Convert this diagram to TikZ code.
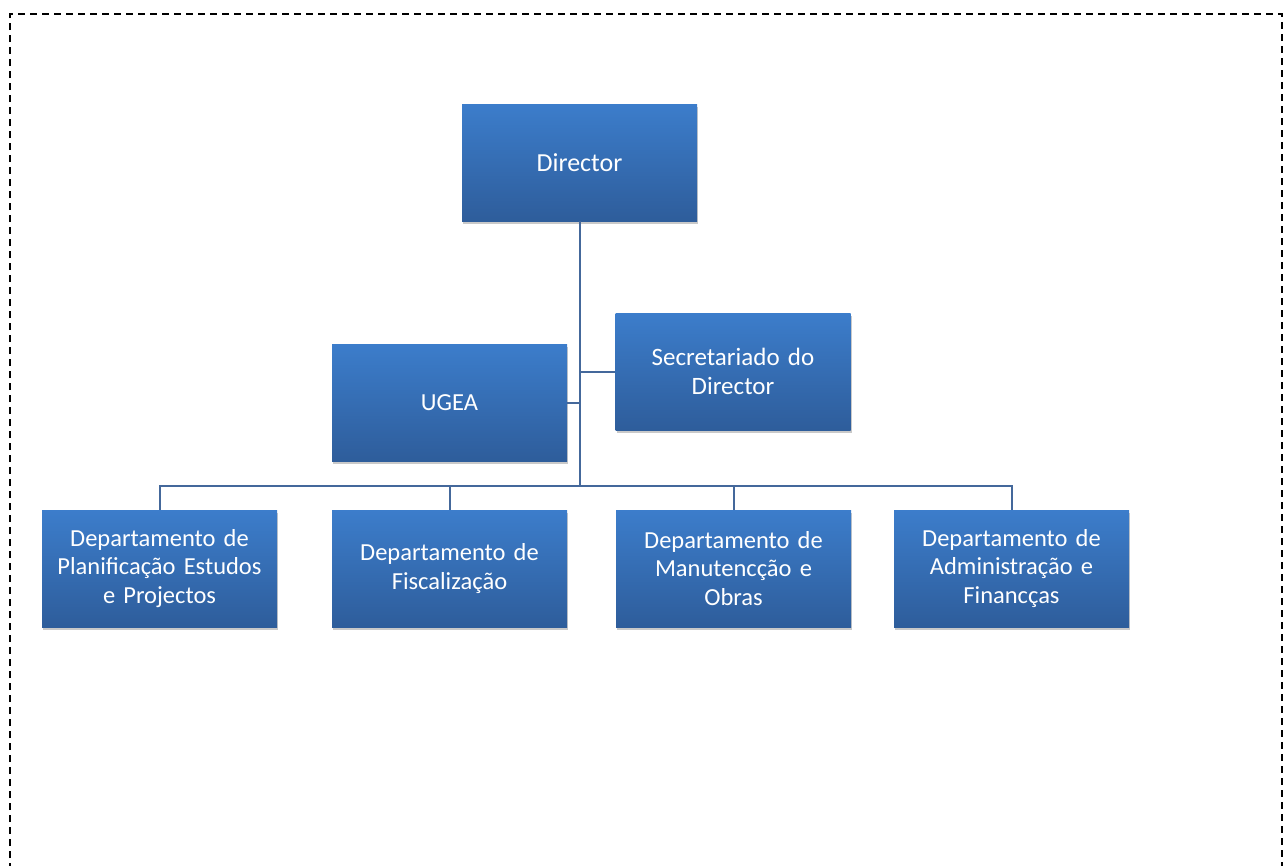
\documentclass[tikz,border=0pt]{standalone}
\usepackage{fontspec}
\setmainfont{Carlito}
\usetikzlibrary{shadows}
\definecolor{boxtop}{RGB}{60,125,203}
\definecolor{boxbot}{RGB}{46,93,155}
\definecolor{linkc}{RGB}{68,104,155}
\tikzset{
  orgbox/.style={rectangle, inner sep=4pt, text width=227pt, minimum height=117pt,
    align=center, text=white, top color=boxtop, bottom color=boxbot,
    font=\fontsize{24.5}{28.5}\selectfont,
    drop shadow={shadow xshift=1pt, shadow yshift=-3pt, opacity=0.3, fill=black!70}},
  link/.style={draw=linkc, line width=2pt},
  frame/.style={draw=black, line width=2pt, dash pattern=on 7pt off 5pt}
}
\begin{document}
\begin{tikzpicture}[x=1pt,y=-1pt]
\useasboundingbox (0,0) rectangle (1285,865);
\draw[frame] (10,870) -- (10,14) -- (1282,14) -- (1282,870);
\node[orgbox, font=\fontsize{26}{30}\selectfont] (dir) at (579.5,162.5) {Director};
\node[orgbox] (ugea) at (449.5,402.5) {UGEA};
\node[orgbox, font=\fontsize{25}{29}\selectfont] (sec) at (733,371.5) {Secretariado do\\Director};
\node[orgbox] (d1) at (159.5,568.5) {Departamento de\\Planificação Estudos\\e Projectos};
\node[orgbox] (d2) at (449.5,568.5) {Departamento de\\Fiscalização};
\node[orgbox] (d3) at (733.5,568.5) {Departamento de\\Manutencção e\\Obras};
\node[orgbox] (d4) at (1011.5,568.5) {Departamento de\\Administração e\\Financças};
\coordinate (bus) at (579.5,486);
\draw[link] (dir.south) -- (bus);
\draw[link] (sec.west) -- (sec.west -| bus);
\draw[link] (ugea.east) -- (ugea.east -| bus);
\draw[link] (d1.north) |- (bus) -| (d4.north);
\draw[link] (d2.north) -- (d2.north |- bus);
\draw[link] (d3.north) -- (d3.north |- bus);
\end{tikzpicture}
\end{document}
